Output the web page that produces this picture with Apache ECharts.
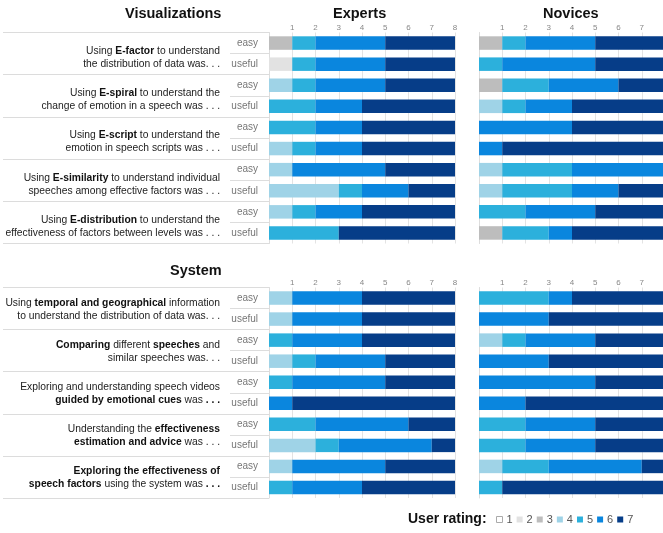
<!DOCTYPE html>
<html>
<head>
<meta charset="utf-8">
<script src="https://cdn.jsdelivr.net/npm/echarts@6/dist/echarts.min.js"></script>
<style>
  html, body { margin: 0; padding: 0; background: #fff; }
  #chart { width: 663px; height: 533px; }
</style>
</head>
<body>
<div id="chart"></div>
<script>
// ---- data ----
const ratings = ['1', '2', '3', '4', '5', '6', '7'];
const rowLabels = ['easy', 'useful', 'easy', 'useful', 'easy', 'useful', 'easy', 'useful', 'easy', 'useful'];
const tickLabels = ['', '1', '2', '3', '4', '5', '6', '7', '8'];

const visQuestions = [
  '{n|Using }{b|E-factor}{n| to understand}\n{n|the distribution of data was. . .}',
  '{n|Using }{b|E-spiral}{n| to understand the}\n{n|change of emotion in a speech was . . .}',
  '{n|Using }{b|E-script}{n| to understand the}\n{n|emotion in speech scripts was . . .}',
  '{n|Using }{b|E-similarity}{n| to understand individual}\n{n|speeches among effective factors was . . .}',
  '{n|Using }{b|E-distribution}{n| to understand the}\n{n|effectiveness of factors between levels was . . .}'
];
const sysQuestions = [
  '{n|Using }{b|temporal and geographical}{n| information}\n{n|to understand the distribution of data was. . .}',
  '{b|Comparing}{n| different }{b|speeches}{n| and}\n{n|similar speeches was. . .}',
  '{n|Exploring and understanding speech videos}\n{b|guided by emotional cues}{n| was }{b|. . .}',
  '{n|Understanding the }{b|effectiveness}\n{b|estimation and advice}{n| was . . .}',
  '{b|Exploring the effectiveness of}\n{b|speech factors}{n| using the system was }{b|. . .}'
];

// counts of ratings 1..7 per row (easy/useful per question)
const expertsVis = [
  [0,0,1,0,1,3,3],
  [0,1,0,0,1,3,3],
  [0,0,0,1,1,3,3],
  [0,0,0,0,2,2,4],
  [0,0,0,0,2,2,4],
  [0,0,0,1,1,2,4],
  [0,0,0,1,0,4,3],
  [0,0,0,3,1,2,2],
  [0,0,0,1,1,2,4],
  [0,0,0,0,3,0,5]
];
const novicesVis = [
  [0,0,1,0,1,3,3],
  [0,0,0,0,1,4,3],
  [0,0,1,0,2,3,2],
  [0,0,0,1,1,2,4],
  [0,0,0,0,0,4,4],
  [0,0,0,0,0,1,7],
  [0,0,0,1,3,4,0],
  [0,0,0,1,3,2,2],
  [0,0,0,0,2,3,3],
  [0,0,1,0,2,1,4]
];
const expertsSys = [
  [0,0,0,1,0,3,4],
  [0,0,0,1,0,3,4],
  [0,0,0,0,1,3,4],
  [0,0,0,1,1,3,3],
  [0,0,0,0,1,4,3],
  [0,0,0,0,0,1,7],
  [0,0,0,0,2,4,2],
  [0,0,0,2,1,4,1],
  [0,0,0,1,0,4,3],
  [0,0,0,0,1,3,4]
];
const novicesSys = [
  [0,0,0,0,3,1,4],
  [0,0,0,0,0,3,5],
  [0,0,0,1,1,3,3],
  [0,0,0,0,0,3,5],
  [0,0,0,0,0,5,3],
  [0,0,0,0,0,2,6],
  [0,0,0,0,2,3,3],
  [0,0,0,0,2,3,3],
  [0,0,0,1,2,4,1],
  [0,0,0,0,1,0,7]
];

// ---- styling ----
const colors = ['#ffffff', '#e2e2e2', '#bdbdbd', '#9fd3e7', '#2cb0dc', '#0a86de', '#063d88'];
const FONT = '"Liberation Sans", Arial, Helvetica, sans-serif';
const panels = [expertsVis, novicesVis, expertsSys, novicesSys];

const gridVisTop = 32.5, gridVisH = 211, gridSysTop = 287.5, gridSysH = 210.5;
const gridBase = { outerBoundsMode: 'none', containLabel: false };
const grids = [
  Object.assign({ left: 269, top: gridVisTop, width: 186, height: gridVisH }, gridBase),
  Object.assign({ left: 479, top: gridVisTop, width: 186, height: gridVisH }, gridBase),
  Object.assign({ left: 269, top: gridSysTop, width: 186, height: gridSysH }, gridBase),
  Object.assign({ left: 479, top: gridSysTop, width: 186, height: gridSysH }, gridBase),
  Object.assign({ left: 269, top: gridVisTop, width: 186, height: gridVisH }, gridBase),
  Object.assign({ left: 269, top: gridSysTop, width: 186, height: gridSysH }, gridBase)
];

const xAxes = [];
const yAxes = [];
for (let p = 0; p < 4; p++) {
  xAxes.push({
    type: 'value', gridIndex: p, position: 'top', min: 0, max: 8, interval: 1,
    axisLine: { show: false }, axisTick: { show: false },
    axisLabel: { fontSize: 8, color: '#888', margin: 1, fontFamily: FONT,
      formatter: (v) => tickLabels[v] },
    splitLine: { show: true, lineStyle: { color: '#e3e3e3', width: 1 } }
  });
  const isLeft = (p % 2 === 0);
  yAxes.push({
    type: 'category', gridIndex: p, inverse: true, data: rowLabels,
    axisLine: { show: true, lineStyle: { color: '#dddddd', width: 1 } },
    axisTick: { show: isLeft, length: 39, lineStyle: { color: '#dddddd', width: 1 } },
    axisLabel: { show: isLeft, fontSize: 10, color: '#777', margin: 11, align: 'right', fontFamily: FONT },
    splitLine: { show: false }
  });
}
// question-label axes (their ticks draw the group separator lines)
[4, 5].forEach((g) => {
  xAxes.push({ type: 'value', gridIndex: g, min: 0, max: 8, show: false });
  const qs = g === 4 ? visQuestions : sysQuestions;
  yAxes.push({
    type: 'category', gridIndex: g, inverse: true, data: qs.map((q, i) => 'q' + i),
    axisLine: { show: false },
    axisTick: { show: true, length: 266, lineStyle: { color: '#dcdcdc', width: 1.2 } },
    axisLabel: {
      margin: 49, align: 'right', fontFamily: FONT, lineHeight: 13,
      padding: g === 4 ? [8, 0, 0, 0] : [2, 0, 0, 0],
      formatter: (v, i) => qs[i],
      rich: {
        n: { fontSize: 10.3, color: '#222', fontFamily: FONT, lineHeight: 13 },
        b: { fontSize: 10.3, color: '#111', fontWeight: 'bold', fontFamily: FONT, lineHeight: 13 }
      }
    },
    splitLine: { show: false }
  });
});

const series = [];
panels.forEach((rows, p) => {
  ratings.forEach((r, k) => {
    series.push({
      name: r, type: 'bar', stack: 'panel' + p,
      xAxisIndex: p, yAxisIndex: p,
      barWidth: 13.5, silent: true,
      itemStyle: { color: colors[k] },
      data: rows.map((row) => row[k])
    });
  });
});

const legendData = ratings.map((r, k) => k === 0
  ? { name: r, itemStyle: { color: '#ffffff', borderColor: '#aaaaaa', borderWidth: 1 } }
  : { name: r });

const option = {
  animation: false,
  backgroundColor: '#ffffff',
  textStyle: { fontFamily: FONT },
  grid: grids,
  xAxis: xAxes,
  yAxis: yAxes,
  series: series,
  legend: {
    data: legendData, left: 496, top: 514, padding: 0,
    itemWidth: 6, itemHeight: 6, itemGap: 4, icon: 'rect',
    selectedMode: false,
    textStyle: { fontSize: 11, color: '#555', fontFamily: FONT, padding: [0, 0, 0, -1] }
  },
  graphic: [
    { type: 'text', left: 125, top: 6, style: { text: 'Visualizations', font: 'bold 14.5px ' + FONT, fill: '#111' } },
    { type: 'text', left: 170, top: 263, style: { text: 'System', font: 'bold 14.5px ' + FONT, fill: '#111' } },
    { type: 'text', left: 333, top: 6, style: { text: 'Experts', font: 'bold 14.5px ' + FONT, fill: '#111' } },
    { type: 'text', left: 543, top: 6, style: { text: 'Novices', font: 'bold 14.5px ' + FONT, fill: '#111' } },
    { type: 'text', left: 408, top: 512, style: { text: 'User rating:', font: 'bold 14px ' + FONT, fill: '#111' } }
  ]
};

const chart = echarts.init(document.getElementById('chart'), null, { renderer: 'canvas' });
chart.setOption(option);
</script>
</body>
</html>
